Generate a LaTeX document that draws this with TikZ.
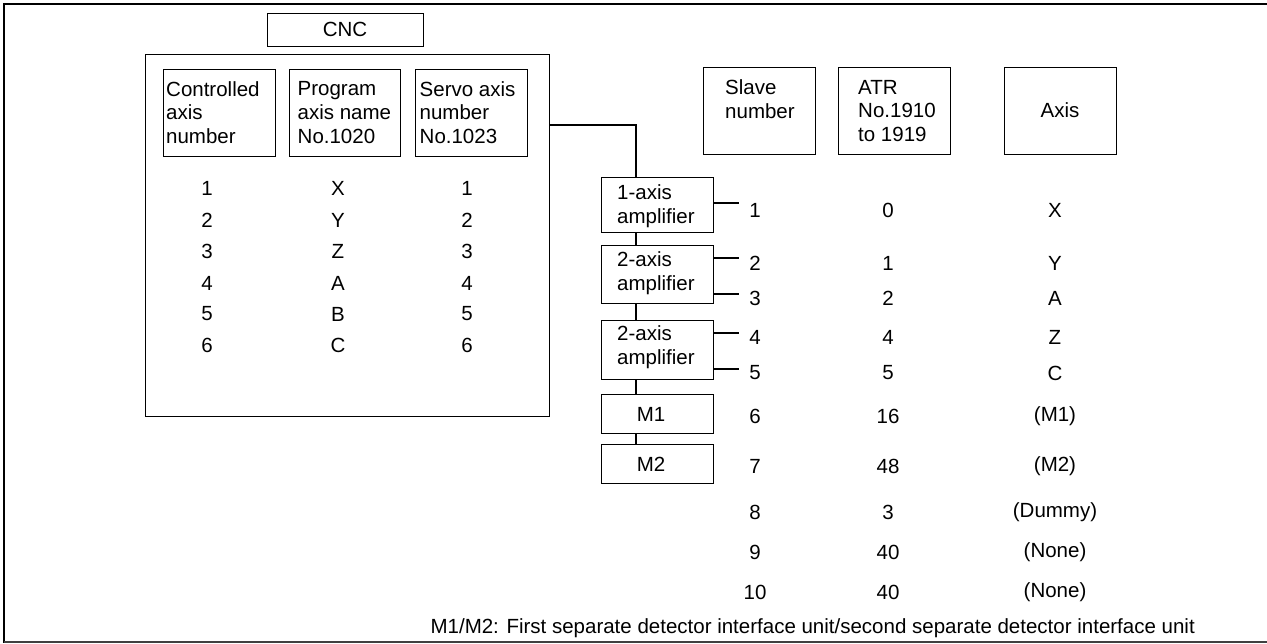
\documentclass[tikz,border=0pt]{standalone}
\usepackage{fontspec}
\setmainfont{Liberation Sans}
\usetikzlibrary{calc}
\begin{document}
\begin{tikzpicture}[x=1pt,y=-1pt,
  every node/.style={font=\fontsize{20.5}{23.7}\selectfont, inner sep=0pt},
  box/.style={draw, line width=1pt},
  txt/.style={align=left},
  num/.style={anchor=center},
  conn/.style={line width=1.8pt},
  stub/.style={line width=1.4pt}]
\useasboundingbox (0,0) rectangle (1267,643);
% frame
\draw[line width=2.2pt] (1267,4) -- (4,4) -- (4,643);
\draw[line width=1.4pt, draw=black!75] (4,642) -- (1267,642);
% CNC
\node[box, minimum width=156, minimum height=33] (cnc) at (345,29.5) {CNC};
\node[box, minimum width=404, minimum height=362] (main) at (347,235) {};
\node[box, minimum width=112, minimum height=87] (h1) at (219,112.5) {};
\node[box, minimum width=111, minimum height=87] (h2) at (344.5,112.5) {};
\node[box, minimum width=112, minimum height=87] (h3) at (471,112.5) {};
\node[txt, anchor=west] (t1) at ($(h1.west)+(3.5,0)$) {Controlled\\axis\\number};
\node[txt, anchor=west] (t2) at ($(h2.west)+(9,0)$) {Program\\axis name\\No.1020};
\node[txt, anchor=west] (t3) at ($(h3.west)+(5,0)$) {Servo axis\\number\\No.1023};
% left table
\foreach \i/\a/\y in {1/X/188,2/Y/220,3/Z/251,4/A/283,5/B/314,6/C/345} {
  \node[num] (c\i) at (207,\y) {\i};
  \node[num] (p\i) at (338,\y) {\a};
  \node[num] (s\i) at (467,\y) {\i};
}
% right headers
\node[box, minimum width=112, minimum height=87] (hs) at (759,110.5) {};
\node[box, minimum width=112, minimum height=87] (ha) at (894,110.5) {};
\node[box, minimum width=112, minimum height=87] (hx) at (1060,110.5) {};
\node[txt, anchor=west] (ts) at (725,99.5) {Slave\\number};
\node[txt, anchor=west] (ta) at (858,111) {ATR\\No.1910\\to 1919};
\node (tx) at (hx.center) {Axis};
% amplifiers
\node[box, minimum width=112, minimum height=55] (a1) at (657,204.5) {};
\node[box, minimum width=112, minimum height=58] (a2) at (657,274) {};
\node[box, minimum width=112, minimum height=59] (a3) at (657,349.5) {};
\node[box, minimum width=112, minimum height=39] (m1) at (657,413.5) {};
\node[box, minimum width=112, minimum height=39] (m2) at (657,463.5) {};
\node[txt, anchor=west] (ta1) at (617,206.5) {1-axis\\amplifier};
\node[txt, anchor=west] (ta2) at (617,273.5) {2-axis\\amplifier};
\node[txt, anchor=west] (ta3) at (617,347.5) {2-axis\\amplifier};
\node (tm1) at ($(m1.center)+(-6,1)$) {M1};
\node (tm2) at ($(m2.center)+(-6,1)$) {M2};
% connectors
\coordinate (k1) at (636,125);
\draw[conn] (main.east |- k1) -- (k1) -- (k1 |- a1.north);
\draw[stub] (636,232) -- (636,245);
\draw[stub] (636,303) -- (636,320);
\draw[stub] (636,379) -- (636,394);
\draw[stub] (636,433) -- (636,444);
\coordinate (e1) at (739,203);
\coordinate (e2) at (739,258);
\coordinate (e3) at (739,294);
\coordinate (e4) at (739,333);
\coordinate (e5) at (739,369);
\draw[stub] (a1.east |- e1) -- (e1);
\draw[stub] (a2.east |- e2) -- (e2);
\draw[stub] (a2.east |- e3) -- (e3);
\draw[stub] (a3.east |- e4) -- (e4);
\draw[stub] (a3.east |- e5) -- (e5);
% right table
\foreach \s/\t/\x/\y in {1/0/X/210, 2/1/Y/263, 3/2/A/298, 4/4/Z/337, 5/5/C/373, 6/16/(M1)/416, 7/48/(M2)/466, 8/3/(Dummy)/512, 9/40/(None)/552, 10/40/(None)/592} {
  \node[num] (rs\s) at (755,\y) {\s};
  \node[num] (ra\s) at (888,\y) {\t};
  \node[num] (rx\s) at (1055,\y) {\x};
}
\node[anchor=east] (foot) at (1195,628) {M1/M2: First separate detector interface unit/second separate detector interface unit};
\end{tikzpicture}
\end{document}
